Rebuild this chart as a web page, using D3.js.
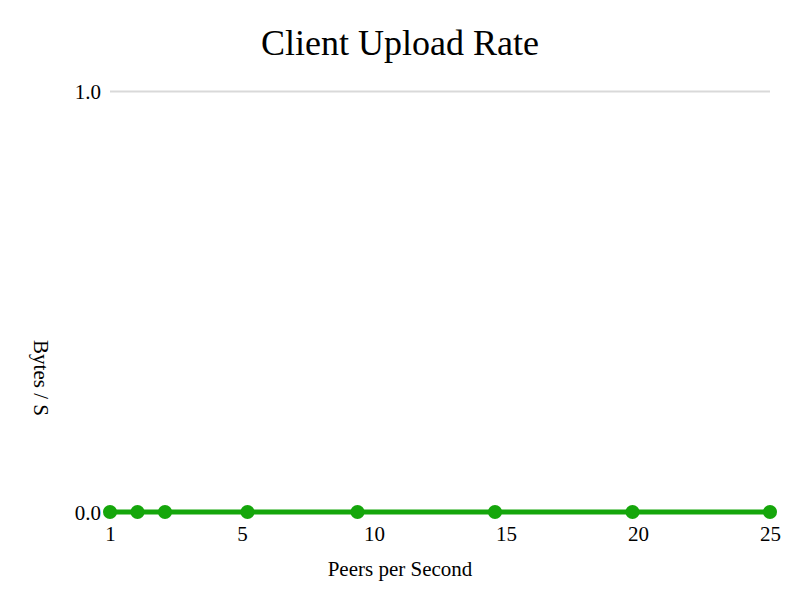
<!DOCTYPE html>
<html>
<head>
<meta charset="utf-8">
<script src="https://cdn.jsdelivr.net/npm/d3@7"></script>
<style>
  body { margin: 0; background: #fff; }
  svg text { font-family: "Liberation Serif", "Times New Roman", serif; fill: #000; }
</style>
</head>
<body>
<svg id="chart" width="800" height="600"></svg>
<script>
const peers = [1, 2, 3, 6, 10, 15, 20, 25];
const uploadRate = [0, 0, 0, 0, 0, 0, 0, 0];
const xTickLabels = ["1", "5", "10", "15", "20", "25"];
const yTicks = [0, 1];

(function () {
const svg = d3.select("#chart");
const mLeft = 110, mRight = 770, mTop = 91, mBottom = 512;

const x = d3.scaleLinear().domain([1, 25]).range([mLeft, mRight]);
const xLabel = d3.scalePoint().domain(xTickLabels).range([mLeft, mRight]);
const y = d3.scaleLinear().domain([0, 1]).range([mBottom, mTop]);

// title
svg.append("text").attr("x", 400).attr("y", 55).attr("text-anchor", "middle")
  .style("font-size", "36px").text("Client Upload Rate");

// y grid + labels
const yAxis = svg.append("g").attr("transform", `translate(${mLeft},0)`)
  .call(d3.axisLeft(y).tickValues(yTicks).tickFormat(d3.format(".1f")).tickSize(-(mRight - mLeft)).tickPadding(9));
yAxis.select(".domain").remove();
yAxis.selectAll(".tick line").attr("stroke", "#d9d9d9").attr("stroke-width", 2);
yAxis.selectAll(".tick text").style("font-size", "21px").attr("dy", "0.35em");

// x labels
const xAxis = svg.append("g").attr("transform", `translate(0,${mBottom})`)
  .call(d3.axisBottom(xLabel).tickSize(0).tickPadding(14));
xAxis.select(".domain").remove();
xAxis.selectAll(".tick text").style("font-size", "21px");

// axis titles
svg.append("text").attr("x", 400).attr("y", 576).attr("text-anchor", "middle")
  .style("font-size", "21px").text("Peers per Second");
svg.append("text").attr("transform", "translate(34,378) rotate(90)").attr("text-anchor", "middle")
  .style("font-size", "21px").text("Bytes / S");

const data = peers.map((p, i) => ({ p, v: uploadRate[i] }));
const color = "#15a60b";

svg.append("path").datum(data)
  .attr("fill", "none").attr("stroke", color).attr("stroke-width", 5)
  .attr("d", d3.line().x(d => x(d.p)).y(d => y(d.v)));

svg.selectAll("circle.pt").data(data).join("circle")
  .attr("class", "pt")
  .attr("cx", d => x(d.p)).attr("cy", d => y(d.v)).attr("r", 7)
  .attr("fill", color);
})();
</script>
</body>
</html>
